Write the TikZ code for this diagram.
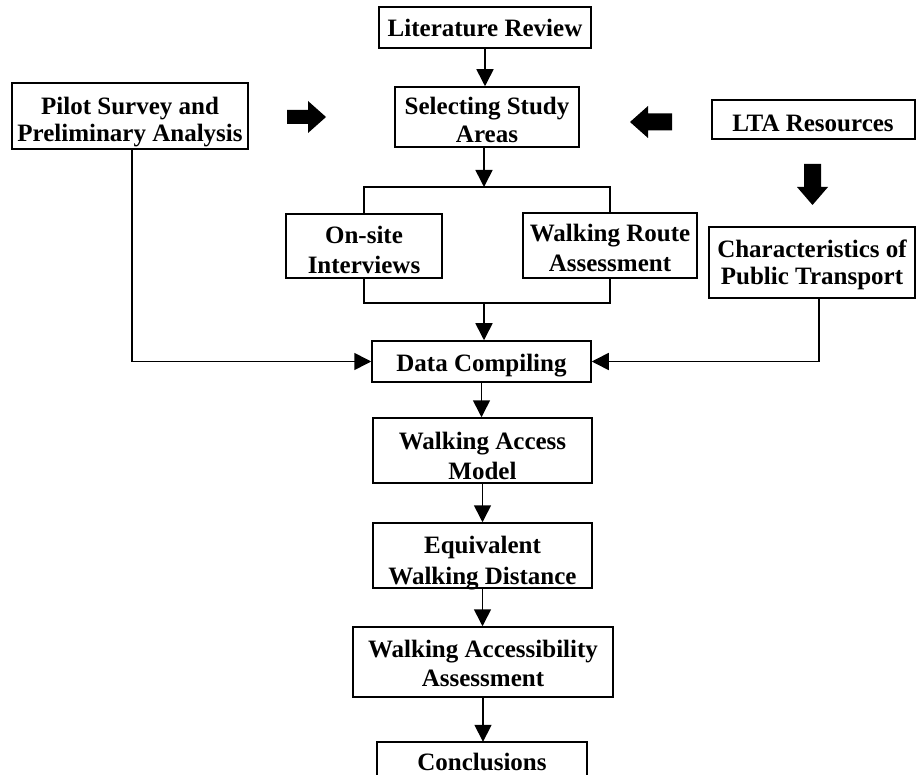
\documentclass[tikz,border=0pt]{standalone}
\usepackage{fontspec}
\setmainfont{Liberation Serif}
\usetikzlibrary{arrows.meta}
\begin{document}
\begin{tikzpicture}[x=1pt,y=-1pt,
  box/.style={draw, line width=1.5pt, inner sep=0pt},
  txt/.style={anchor=base, inner sep=0pt, font=\fontsize{25}{29}\bfseries\selectfont},
  arr/.style={line width=1.6pt, -{Triangle[length=17pt,width=17pt]}},
  ln/.style={line width=1.6pt},
  blk/.style={fill=black}]
\useasboundingbox (0,0) rectangle (918,775);
% boxes
\node[box, minimum width=212pt, minimum height=41pt] (lit) at (485,27.5) {};
\node[box, minimum width=184pt, minimum height=60pt] (sel) at (487,117) {};
\node[box, minimum width=236pt, minimum height=66pt] (pilot) at (130,116) {};
\node[box, minimum width=203pt, minimum height=39pt] (lta) at (813.5,119.5) {};
\node[box, minimum width=156pt, minimum height=64pt] (onsite) at (364,246) {};
\node[box, minimum width=174pt, minimum height=65pt] (wra) at (610,245.5) {};
\node[box, minimum width=206pt, minimum height=71pt] (chr) at (812,262.5) {};
\node[box, minimum width=219pt, minimum height=41pt] (data) at (481.5,361.5) {};
\node[box, minimum width=219pt, minimum height=65pt] (wam) at (482.5,450.5) {};
\node[box, minimum width=219pt, minimum height=65pt] (ewd) at (482.5,555.5) {};
\node[box, minimum width=260pt, minimum height=70pt] (waa) at (483,662) {};
\node[inner sep=0pt, minimum width=210pt, minimum height=34pt] (concl) at (482,759) {};
\draw[line width=1.5pt] (concl.south west) |- (concl.north east) -- (concl.south east);
% texts
\node[txt] (lit-t) at (485,37) {Literature Review};
\node[txt] (sel-t1) at (487,115) {Selecting Study};
\node[txt] (sel-t2) at (487,143) {Areas};
\node[txt] (pilot-t1) at (130,115) {Pilot Survey and};
\node[txt] (pilot-t2) at (130,142) {Preliminary Analysis};
\node[txt] (lta-t) at (813,132) {LTA Resources};
\node[txt] (onsite-t1) at (364,244) {On-site};
\node[txt] (onsite-t2) at (364,274) {Interviews};
\node[txt] (wra-t1) at (610,242) {Walking Route};
\node[txt] (wra-t2) at (610,272) {Assessment};
\node[txt] (chr-t1) at (812,258) {Characteristics of};
\node[txt] (chr-t2) at (812,285) {Public Transport};
\node[txt] (data-t) at (481.5,372) {Data Compiling};
\node[txt] (wam-t1) at (482.5,449) {Walking Access};
\node[txt] (wam-t2) at (482.5,479) {Model};
\node[txt] (ewd-t1) at (482.5,553) {Equivalent};
\node[txt] (ewd-t2) at (482.5,584) {Walking Distance};
\node[txt] (waa-t1) at (483,657) {Walking Accessibility};
\node[txt] (waa-t2) at (483,686) {Assessment};
\node[txt] (concl-t) at (482,770) {Conclusions};
% block arrows
\fill[blk] (287,110) -- (308,110) -- (308,101) -- (326,117) -- (308,133) -- (308,124) -- (287,124) -- cycle;
\fill[blk] (672,113.5) -- (648,113.5) -- (648,106) -- (630,122) -- (648,138) -- (648,130.5) -- (672,130.5) -- cycle;
\fill[blk] (804,164) -- (821,164) -- (821,187) -- (828,187) -- (812.5,205) -- (797,187) -- (804,187) -- cycle;
% connectors
\coordinate (btop) at (484,187);
\coordinate (bbot) at (484,303);
\draw[arr] (lit.south) -- (lit.south |- sel.north);
\draw[arr] (sel.south -| btop) -- (btop);
\draw[ln] (onsite.north) |- (btop) -| (wra.north);
\draw[ln] (onsite.south) |- (bbot) -| (wra.south);
\draw[arr] (bbot) -- (bbot |- data.north);
\draw[arr] ([xshift=2pt]pilot.south) |- (data.west);
\draw[arr] ([xshift=7pt]chr.south) |- (data.east);
\draw[arr] (data.south) -- (data.south |- wam.north);
\draw[arr] (wam.south) -- (wam.south |- ewd.north);
\draw[arr] (ewd.south) -- (ewd.south |- waa.north);
\draw[arr] (waa.south) -- (waa.south |- concl.north);
\end{tikzpicture}
\end{document}
